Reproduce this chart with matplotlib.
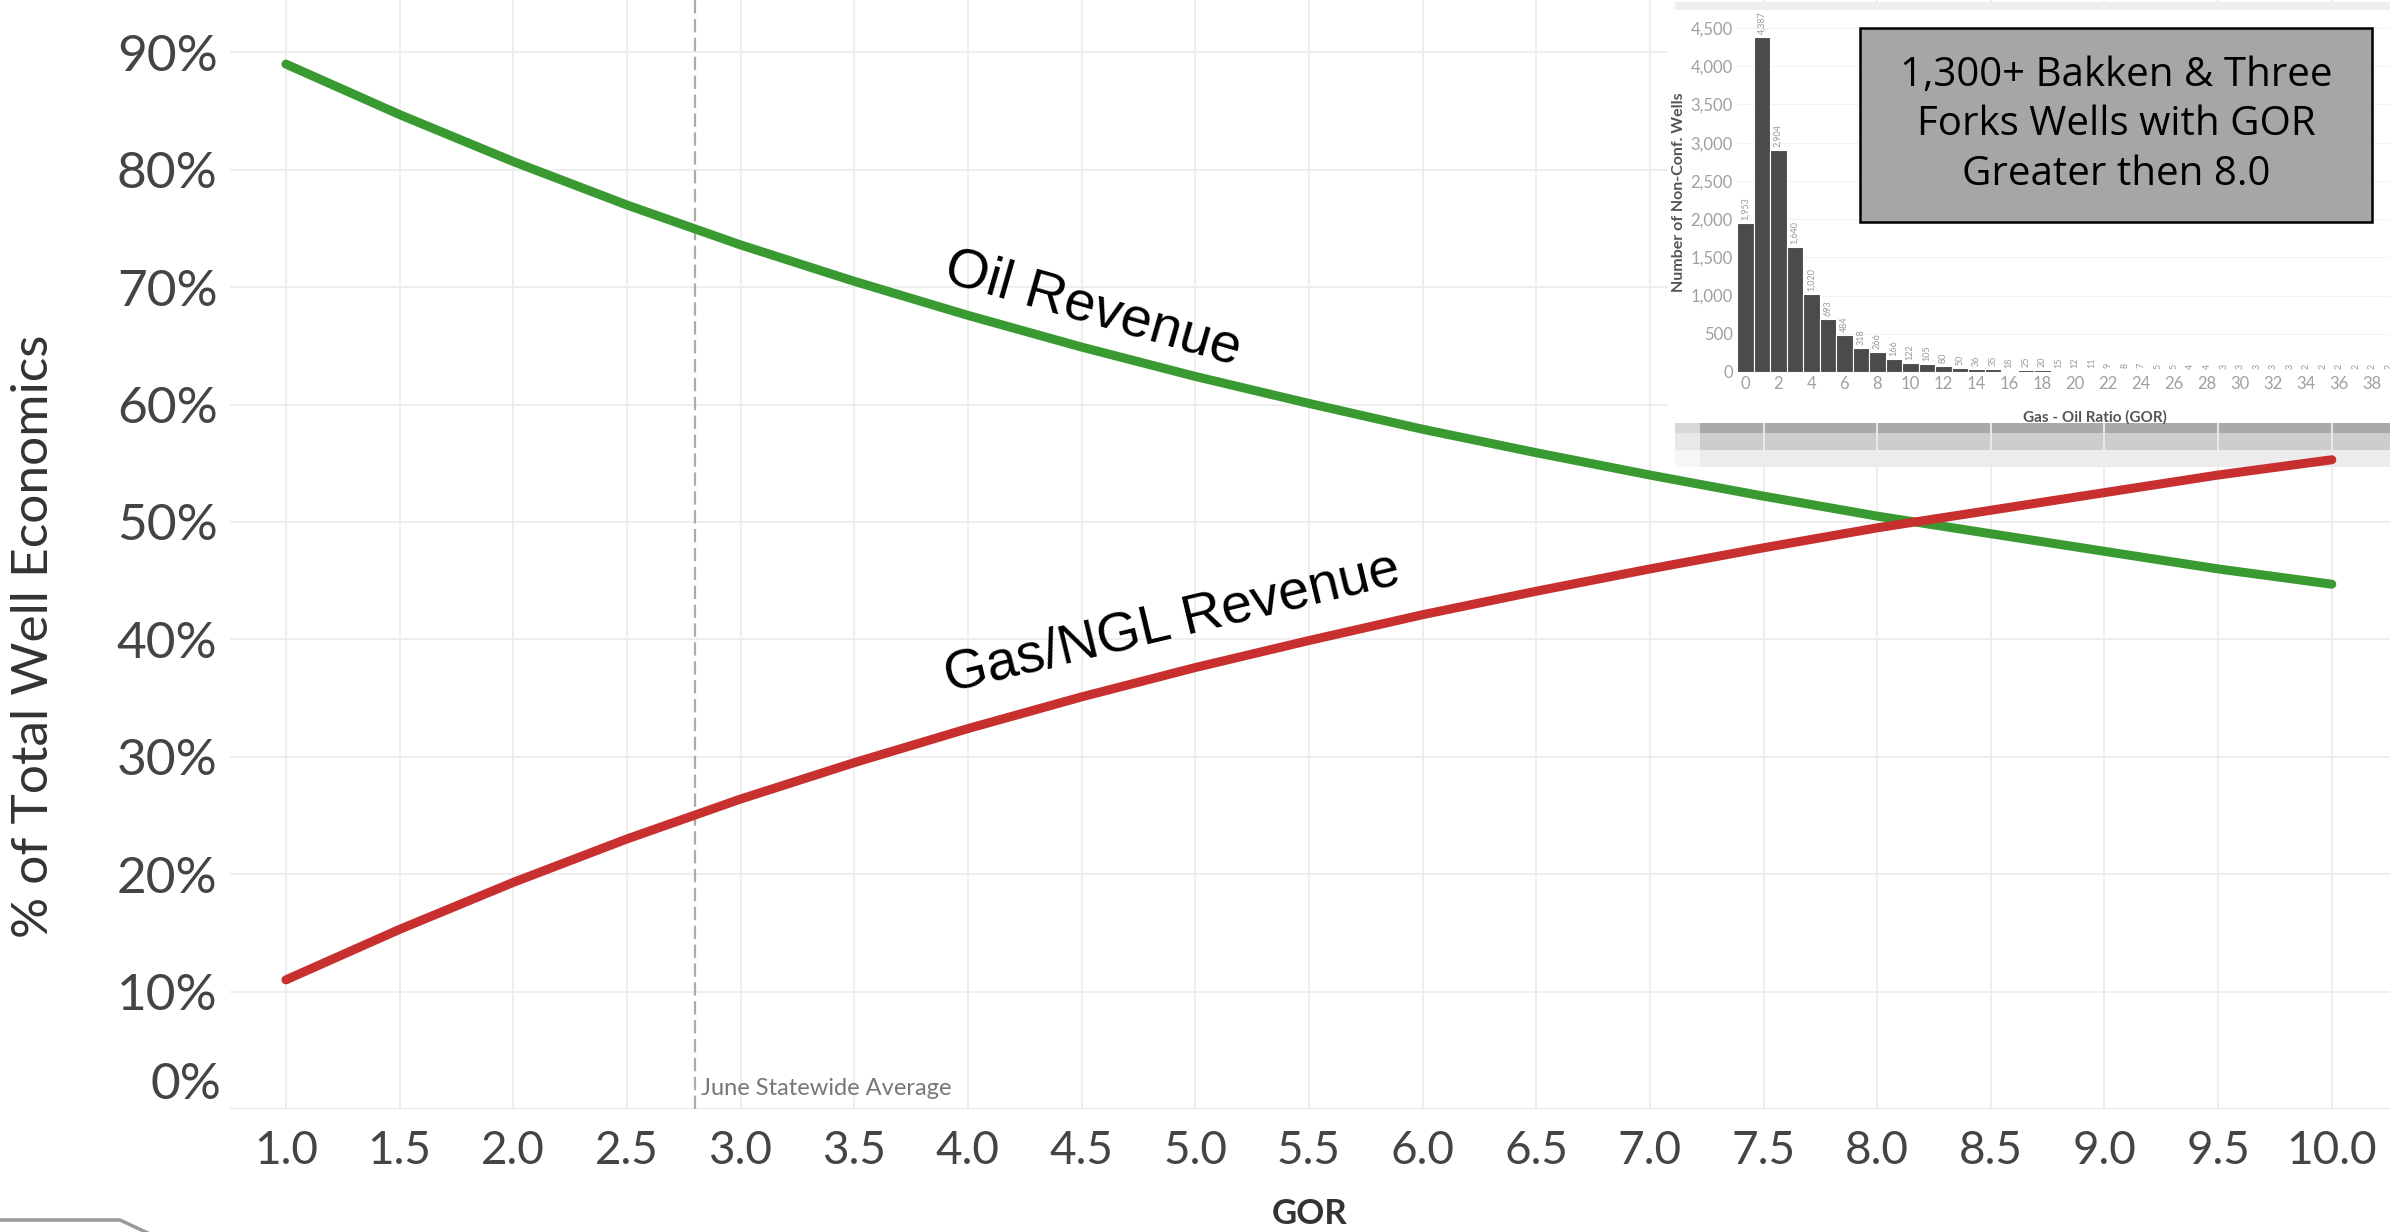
import matplotlib
matplotlib.use('Agg')
import matplotlib.pyplot as plt
from matplotlib.patches import Rectangle
from matplotlib.ticker import PercentFormatter
from matplotlib.lines import Line2D

# ---------------- data ----------------
gor = [1.0, 1.5, 2.0, 2.5, 3.0, 3.5, 4.0, 4.5, 5.0, 5.5,
       6.0, 6.5, 7.0, 7.5, 8.0, 8.5, 9.0, 9.5, 10.0]
oil_pct = [0.890, 0.847, 0.807, 0.770, 0.736, 0.705, 0.676, 0.649, 0.624, 0.601,
           0.579, 0.559, 0.540, 0.522, 0.505, 0.490, 0.475, 0.460, 0.447]
gas_pct = [0.110, 0.153, 0.193, 0.230, 0.264, 0.295, 0.324, 0.351, 0.376, 0.399,
           0.421, 0.441, 0.460, 0.478, 0.495, 0.510, 0.525, 0.540, 0.553]
x_tick_labels = ['1.0', '1.5', '2.0', '2.5', '3.0', '3.5', '4.0', '4.5', '5.0', '5.5',
                 '6.0', '6.5', '7.0', '7.5', '8.0', '8.5', '9.0', '9.5', '10.0']
y_ticks = [0.1, 0.2, 0.3, 0.4, 0.5, 0.6, 0.7, 0.8, 0.9]
statewide_avg_gor = 2.8

hist_gor = list(range(0, 40))
hist_counts = [1953, 4387, 2904, 1640, 1020, 693, 484, 318, 266, 166,
               122, 105, 80, 50, 36, 35, 18, 25, 20, 15,
               12, 11, 9, 8, 7, 5, 5, 4, 4, 3,
               3, 3, 3, 3, 2, 2, 2, 2, 2, 2]
hist_yticks = [0, 500, 1000, 1500, 2000, 2500, 3000, 3500, 4000, 4500]
hist_xticks = list(range(0, 40, 2))

box_text = "1,300+ Bakken & Three\nForks Wells with GOR\nGreater then 8.0"

# ---------------- figure ----------------
W, H = 2390, 1232
fig = plt.figure(figsize=(W / 100, H / 100), dpi=100)
fig.patch.set_facecolor('white')

def fx(px):
    return px / W

def fy(py):
    return 1 - py / H

FONT = ['Lato', 'DejaVu Sans']
TXT = '#444444'

ax = fig.add_axes([fx(230), fy(1109), fx(2390 - 230), 1109 / H])
ax.set_facecolor('none')
ax.set_xlim(0.754, 10.256)
ax.set_ylim(0, 0.9446)
for s in ax.spines.values():
    s.set_visible(False)

ax.set_xticks(gor)
ax.set_xticklabels(x_tick_labels)
ax.set_yticks(y_ticks)
ax.yaxis.set_major_formatter(PercentFormatter(1.0, decimals=0))
ax.tick_params(axis='both', length=0, labelcolor=TXT)
ax.tick_params(axis='x', pad=15, labelsize=33)
ax.tick_params(axis='y', pad=9, labelsize=37)
for lab in ax.get_xticklabels() + ax.get_yticklabels():
    lab.set_family(FONT)
ax.grid(True, color='#ededed', lw=1.3)
ax.axhline(0, color='#e6e6e6', lw=1.5, zorder=1)
ax.set_axisbelow(True)

# 0% label (sits slightly above the baseline, as in the reference)
ax.annotate('0%', xy=(0, 0), xycoords=('axes fraction', 'data'),
            xytext=(-6.5, 17), textcoords='offset points',
            ha='right', va='center', fontsize=37, color=TXT, family=FONT)

ax.set_xlabel('GOR', fontsize=25, color='#333333', family=FONT,
              fontweight='bold', labelpad=19)
fig.text(fx(34), fy(636), '% of Total Well Economics', rotation=90,
         ha='center', va='center', fontsize=37, color='#333333', family=FONT)

# lines
ax.plot(gor, oil_pct, color='#3a9a32', lw=6.5, solid_capstyle='round', zorder=3)
ax.plot(gor, gas_pct, color='#c8302f', lw=6.5, solid_capstyle='round', zorder=3)

# statewide average reference line
ax.axvline(statewide_avg_gor, color='#ababab', lw=1.6, ls=(0, (6, 2.5)), zorder=2)
ax.annotate('June Statewide Average', xy=(statewide_avg_gor, 0), xycoords='data',
            xytext=(4, 7), textcoords='offset points', ha='left', va='bottom',
            fontsize=17, color='#777777', family=FONT)

# series labels
ax.text(4.55, 0.681, 'Oil Revenue', rotation=-16, ha='center', va='center',
        fontsize=40, family=['Liberation Sans', 'DejaVu Sans'], color='black', zorder=4)
ax.text(4.90, 0.413, 'Gas/NGL Revenue', rotation=13.5, ha='center', va='center',
        fontsize=40, family=['Liberation Sans', 'DejaVu Sans'], color='black', zorder=4)

# ---------------- inset (pasted histogram) ----------------
# soft shadow under the inset (drawn behind the main plot content)
shadow = [(423, 433, '#a9a9a9'), (433, 450, '#cdcdcd'), (450, 467, '#ececec')]
for y0, y1, c in shadow:
    fig.patches.append(Rectangle((fx(1700), fy(y1)), fx(W - 1700), (y1 - y0) / H,
                                 transform=fig.transFigure, facecolor=c,
                                 edgecolor='none', zorder=-1))
    fig.patches.append(Rectangle((fx(1675), fy(y1)), fx(25), (y1 - y0) / H,
                                 transform=fig.transFigure, facecolor=c,
                                 edgecolor='none', alpha=0.45, zorder=-1))
fig.patches.append(Rectangle((fx(1675), fy(10)), fx(W - 1675), 8 / H,
                             transform=fig.transFigure, facecolor='#eeeeee',
                             edgecolor='none', zorder=5))
fig.patches.append(Rectangle((fx(1668), fy(423)), fx(W - 1668), (423 - 10) / H,
                             transform=fig.transFigure, facecolor='white',
                             edgecolor='none', zorder=6))

iax = fig.add_axes([fx(1737), fy(372), fx(2397 - 1737), (372 - 12.7) / H], zorder=7)
iax.set_facecolor('white')
iax.bar(hist_gor, hist_counts, width=1.0, color='#4b4b4b', edgecolor='white', lw=0.8)
iax.set_xlim(-0.5, 39.5)
iax.set_ylim(0, 4700)
for s in iax.spines.values():
    s.set_visible(False)
iax.set_yticks(hist_yticks)
iax.set_yticklabels([f'{v:,}' for v in hist_yticks])
iax.set_xticks(hist_xticks)
iax.tick_params(axis='both', length=0, labelsize=12, labelcolor='#a0a0a0', pad=3)
for lab in iax.get_xticklabels() + iax.get_yticklabels():
    lab.set_family(FONT)
iax.grid(axis='y', color='#f3f3f3', lw=0.8)
iax.set_axisbelow(True)
for xv, cv in zip(hist_gor, hist_counts):
    iax.text(xv, cv + 40, f'{cv:,}', rotation=90, ha='center', va='bottom',
             fontsize=6.5, color='#9a9a9a', family=FONT)
iax.set_xlabel('Gas - Oil Ratio (GOR)', fontsize=11, color='#555555',
               fontweight='bold', family=FONT)
iax.xaxis.set_label_coords(0.542, -0.105)
iax.set_ylabel('Number of Non-Conf. Wells', fontsize=11.5, color='#555555',
               fontweight='bold', family=FONT, labelpad=3)

# grey annotation box
fig.patches.append(Rectangle((fx(1860), fy(222)), fx(2372 - 1860), (222 - 28) / H,
                             transform=fig.transFigure, facecolor='#a6a6a6',
                             edgecolor='black', lw=1.8, zorder=8))
fig.text(fx(2116), fy(125), box_text, ha='center', va='center', fontsize=29,
         linespacing=1.3, color='black', family=['Open Sans', 'DejaVu Sans'], zorder=9)

# partial logo line in the bottom-left corner
fig.add_artist(Line2D([fx(0), fx(120), fx(150)], [fy(1220), fy(1220), fy(1234)],
                      transform=fig.transFigure, color='#9a9a9a', lw=2.5))

fig.savefig('out.png', dpi=100)
